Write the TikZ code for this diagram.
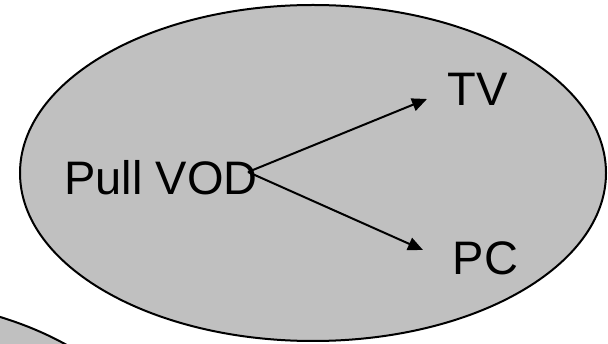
\documentclass[tikz,border=0pt]{standalone}
\usepackage{fontspec}
\setmainfont{Liberation Sans}
\definecolor{blobgray}{RGB}{192,192,192}
\usetikzlibrary{arrows.meta,positioning}

\begin{document}
\begin{tikzpicture}[
  x=1pt, y=-1pt,
  blob/.style={draw=black, fill=blobgray, line width=2pt},
  lbl/.style={font=\fontsize{47}{54}\selectfont, inner sep=0pt},
  link/.style={line width=2pt, -{Triangle[length=15pt, width=13pt]}}
]
  \useasboundingbox (0,0) rectangle (608,344);
  \clip (0,0) rectangle (608,344);

  % the two service areas
  \draw[blob] (-139,465) ellipse [x radius=294, y radius=168];
  \draw[blob] (313,173) ellipse [x radius=293, y radius=168];

  \node[lbl] (pull) at (161,177.5) {Pull VOD};
  \node[lbl] (tv) at (477.5,89) {TV};
  \node[lbl] (pc) at (485.5,258) {PC};

  \coordinate (src) at (248,172);
  \coordinate (tvend) at (427,99);
  \coordinate (pcend) at (423,250);

  \draw[link] (src) -- (tvend);
  \draw[link] (src) -- (pcend);
\end{tikzpicture}
\end{document}
